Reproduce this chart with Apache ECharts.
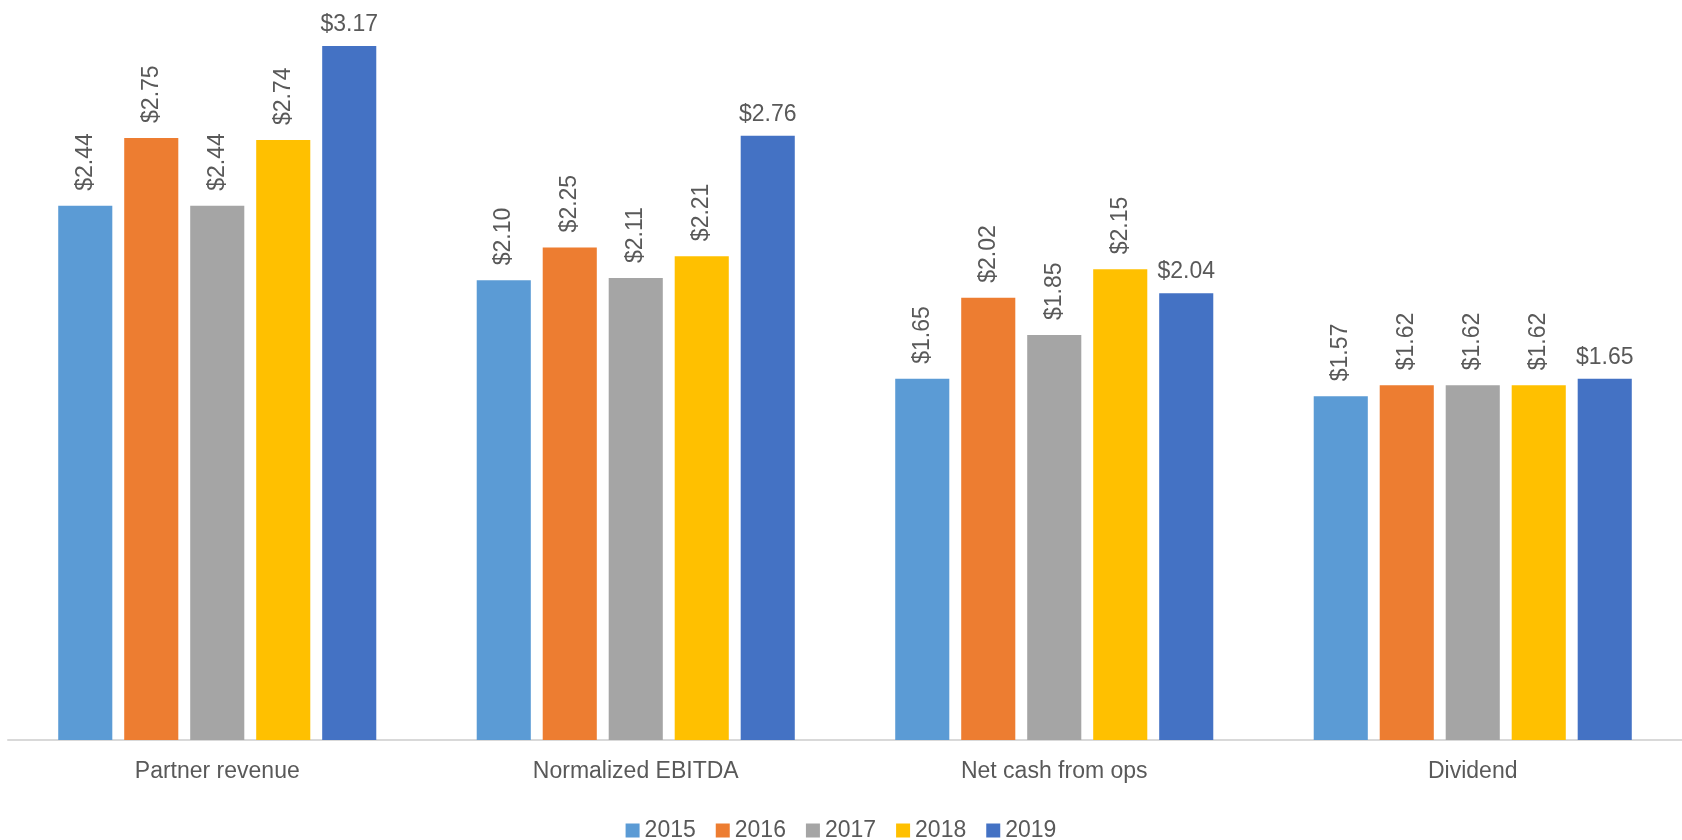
<!DOCTYPE html>
<html>
<head>
<meta charset="utf-8">
<script src="https://cdn.jsdelivr.net/npm/echarts@6/dist/echarts.min.js"></script>
<style>html,body{margin:0;padding:0;background:#fff;}#c{width:1682px;height:840px;}</style>
</head>
<body>
<div id="c"></div>
<script>
const categories = ['Partner revenue', 'Normalized EBITDA', 'Net cash from ops', 'Dividend'];
const years = ['2015', '2016', '2017', '2018', '2019'];
const v2015 = [2.44, 2.10, 1.65, 1.57];
const v2016 = [2.75, 2.25, 2.02, 1.62];
const v2017 = [2.44, 2.11, 1.85, 1.62];
const v2018 = [2.74, 2.21, 2.15, 1.62];
const v2019 = [3.17, 2.76, 2.04, 1.65];
const colors = ['#5B9BD5', '#ED7D31', '#A5A5A5', '#FFC000', '#4472C4'];

const FONT = '"Liberation Sans Narrow", "Arial Narrow", "Liberation Sans", Arial, sans-serif';
const FS = 23;
const seriesValues = [v2015, v2016, v2017, v2018, v2019];

const chart = echarts.init(document.getElementById('c'));
const series = seriesValues.map((vals, i) => {
  const horizontal = i === 4;
  return {
    name: years[i],
    type: 'bar',
    data: vals,
    barGap: '22%',
    barCategoryGap: '24%',
    itemStyle: { color: colors[i] },
    label: horizontal ? {
      show: true,
      position: 'top',
      distance: 10,
      color: '#595959',
      fontFamily: FONT,
      fontSize: FS,
      formatter: p => '$' + p.value.toFixed(2)
    } : {
      show: true,
      position: 'top',
      rotate: 90,
      align: 'left',
      verticalAlign: 'middle',
      distance: 15,
      color: '#595959',
      fontFamily: FONT,
      fontSize: FS,
      formatter: p => '$' + p.value.toFixed(2)
    }
  };
});

chart.setOption({
  animation: false,
  color: colors,
  grid: { left: 8, right: 0, top: 0, bottom: 100, containLabel: false },
  legend: {
    data: years,
    top: 814,
    left: 'center',
    itemWidth: 14,
    itemHeight: 14,
    itemGap: 20,
    icon: 'rect',
    textStyle: { color: '#595959', fontFamily: FONT, fontSize: FS }
  },
  xAxis: {
    type: 'category',
    data: categories,
    axisLine: { show: true, lineStyle: { color: '#D9D9D9', width: 2 } },
    axisTick: { show: false },
    axisLabel: { color: '#595959', fontFamily: FONT, fontSize: FS, margin: 20 }
  },
  yAxis: {
    type: 'value',
    min: 0,
    max: 3.38,
    show: false,
    splitLine: { show: false }
  },
  series: series
});
</script>
</body>
</html>
